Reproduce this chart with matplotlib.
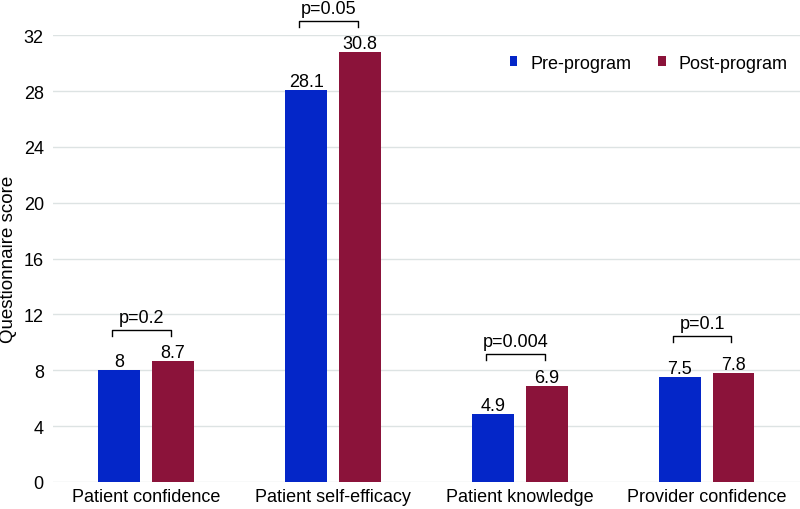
import numpy as np
import matplotlib
matplotlib.use("Agg")
import matplotlib.pyplot as plt

plt.rcParams["font.family"] = ["Liberation Sans", "DejaVu Sans"]

# ─────────────────────────────────────────────
# DATA
# ─────────────────────────────────────────────
categories   = ["Patient confidence", "Patient self-efficacy",
                "Patient knowledge", "Provider confidence"]
pre_program  = [8, 28.1, 4.9, 7.5]
post_program = [8.7, 30.8, 6.9, 7.8]
p_labels     = ["p=0.2", "p=0.05", "p=0.004", "p=0.1"]
bracket_y    = [10.9, 33.0, 9.15, 10.45]

BLUE = "#0426c8"
RED  = "#8b133a"
FS   = 13

fig = plt.figure(figsize=(8, 5.1), dpi=100)
ax = fig.add_axes([0.066, 0.053, 0.934, 0.876])

x = np.arange(len(categories))
w = 0.224
off = 0.144

ax.bar(x - off, pre_program, w, color=BLUE, label="Pre-program", zorder=3)
ax.bar(x + off, post_program, w, color=RED, label="Post-program", zorder=3)

for xi, pre, post in zip(x, pre_program, post_program):
    ax.text(xi - off, pre + 0.28, f"{pre:g}", ha="center", va="baseline", fontsize=FS)
    ax.text(xi + off, post + 0.28, f"{post:g}", ha="center", va="baseline", fontsize=FS)

# significance brackets
for xi, by, lab in zip(x, bracket_y, p_labels):
    x0, x1 = xi - off - 0.037, xi + off - 0.011
    ax.plot([x0, x0, x1, x1], [by - 0.43, by, by, by - 0.43],
            color="black", lw=1, clip_on=False, zorder=4)
    ax.text((x0 + x1) / 2, by + 0.57, lab, ha="center", va="baseline",
            fontsize=FS, clip_on=False)

ax.set_xlim(-0.5, len(categories) - 0.5)
ax.set_ylim(0, 32)
ax.set_yticks(np.arange(0, 33, 4))
ax.set_xticks(x)
ax.set_xticklabels(categories, fontsize=FS)
ax.tick_params(axis="both", length=0, labelsize=FS)
ax.tick_params(axis="y", pad=6.5)
ax.tick_params(axis="x", pad=4)
ax.set_ylabel("Questionnaire score", fontsize=13.5)
ax.yaxis.set_label_coords(-0.0485, 0.5)

ax.grid(True, axis="y", color="#dde3e3", lw=1, zorder=0)
for s in ["top", "right", "left", "bottom"]:
    ax.spines[s].set_visible(False)

leg = ax.legend(loc="upper right", bbox_to_anchor=(1.0, 0.985), ncol=2,
                frameon=False, fontsize=FS, handlelength=0.42, handleheight=0.42,
                handletextpad=0.7, columnspacing=1.5, borderaxespad=0.3)

fig.savefig("out.png", dpi=100)
